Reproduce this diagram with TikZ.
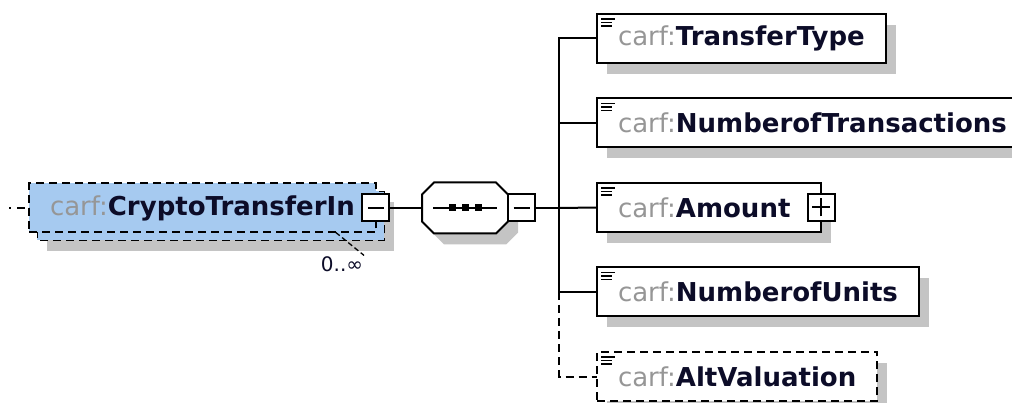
\documentclass[tikz,border=0pt]{standalone}
\usepackage{fontspec}
\setsansfont{DejaVu Sans}
\usetikzlibrary{positioning}
\usetikzlibrary{shadows}
\usetikzlibrary{backgrounds}

\definecolor{elemblue}{RGB}{166,202,240}
\definecolor{shadowgray}{RGB}{196,196,196}
\definecolor{prefixgray}{RGB}{150,150,150}
\definecolor{namenavy}{RGB}{12,12,40}

\newcommand{\carfname}[1]{{\color{prefixgray}carf:}{\bfseries\color{namenavy}#1}}

\tikzset{
	eshadow/.style={drop shadow={shadow xshift=10pt, shadow yshift=-11pt, fill=shadowgray, opacity=1}},
	elembox/.style={draw, fill=white, line width=2pt, outer sep=0pt, minimum height=49pt, inner xsep=21pt, inner ysep=0pt, anchor=west, font=\sffamily\fontsize{26}{31}\selectfont},
	elem/.style={elembox, eshadow},
	optline/.style={dash pattern=on 8pt off 5pt},
	togglebox/.style={draw, fill=white, line width=2pt, outer sep=0pt, minimum size=27pt, inner sep=0pt},
	minus/.style={togglebox, path picture={\draw ([xshift=-8pt]path picture bounding box.center) -- ([xshift=8pt]path picture bounding box.center);}},
	plus/.style={togglebox, path picture={\draw ([xshift=-9pt]path picture bounding box.center) -- ([xshift=9pt]path picture bounding box.center) ([yshift=-9pt]path picture bounding box.center) -- ([yshift=9pt]path picture bounding box.center);}},
}

\begin{document}
\begin{tikzpicture}[x=1pt, y=-1pt, line width=2pt]
	\useasboundingbox (0,0) rectangle (1012,403);

	\node[elembox, fill=elemblue, optline] (cti) at (29,208) {\carfname{CryptoTransferIn}};
	\begin{scope}[on background layer]
		\fill[shadowgray] ([shift={(18,19)}]cti.north west) rectangle ([shift={(18,19)}]cti.south east);
		\draw[fill=elemblue, optline] ([shift={(8,8)}]cti.north west) rectangle ([shift={(8,8)}]cti.south east);
	\end{scope}
	\node[minus] (ctimin) at (cti.east) {};
	\coordinate (in) at (9,208);
	\draw[dash pattern=on 2pt off 6pt on 8pt off 4pt] (in) -- (cti.west);

	\node[font=\sffamily\fontsize{20}{24}\selectfont, text=namenavy, inner sep=0pt] (occ) at (342,264) {0..∞};
	\draw[line width=1.3pt, dash pattern=on 5pt off 3pt] ([xshift=-40pt]cti.south east) -- (occ.north east);

	\node[minimum width=86pt, minimum height=51pt, inner sep=0pt, outer sep=0pt] (seq) at (465,208) {};
	\draw[fill=white, eshadow] ([xshift=12pt]seq.north west) -- ([xshift=-12pt]seq.north east)
		-- ([yshift=-12pt]seq.north east) -- ([yshift=12pt]seq.south east)
		-- ([xshift=-12pt]seq.south east) -- ([xshift=12pt]seq.south west)
		-- ([yshift=12pt]seq.south west) -- ([yshift=-12pt]seq.north west) -- cycle;
	\draw ([xshift=-32pt]seq.center) -- ([xshift=32pt]seq.center);
	\foreach \dx in {-13,0,13}
		\fill ([xshift=\dx pt]seq.center) +(-3.5,-3.5) rectangle +(3.5,3.5);
	\node[minus, right=0pt of seq] (seqmin) {};
	\draw (ctimin.east) -- (seq.west);

	\coordinate (bus) at (559,208);
	\draw (seqmin.east) -- (bus);

	\node[elem] (ttype) at (597,38.5) {\carfname{TransferType}};
	\node[elem, below right=35.5pt and 0pt of ttype.south west] (ntrans) {\carfname{NumberofTransactions}};
	\node[elem, below right=35.5pt and 0pt of ntrans.south west] (amount) {\carfname{Amount}\hspace{10pt}\null};
	\node[plus] (amtplus) at (amount.east) {};
	\node[elem, below right=35.5pt and 0pt of amount.south west] (units) {\carfname{NumberofUnits}};
	\node[elem, optline, below right=35.5pt and 0pt of units.south west] (altval) {\carfname{AltValuation}};

	\foreach \n in {ttype,ntrans,amount,units,altval}
		\draw[line width=1.3pt] ([shift={(4,5)}]\n.north west) -- ++(14,0)
			([shift={(4,8.5)}]\n.north west) -- ++(11,0)
			([shift={(4,12)}]\n.north west) -- ++(11,0);

	\draw (ttype.west) -- (ttype.west -| bus) -- (units.west -| bus) -- (units.west);
	\draw (ntrans.west) -- (ntrans.west -| bus);
	\draw (amount.west) -- (bus);
	\draw[optline] (units.west -| bus) |- (altval.west);
\end{tikzpicture}
\end{document}
